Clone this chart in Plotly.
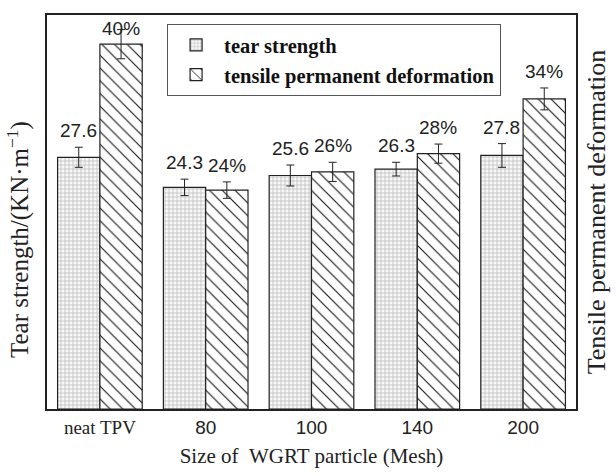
import plotly.graph_objects as go

# Sample groups (WGRT particle size) and measured properties
categories = ["neat TPV", "80", "100", "140", "200"]
tear_strength = [27.6, 24.3, 25.6, 26.3, 27.8]          # KN/m
tear_err = [1.1, 0.9, 1.15, 0.75, 1.3]
tensile_deform = [40, 24, 26, 28, 34]                   # %
tensile_err = [1.6, 0.9, 1.05, 1.05, 1.2]
tear_labels = ["27.6", "24.3", "25.6", "26.3", "27.8"]
tensile_labels = ["40%", "24%", "26%", "28%", "34%"]

serif = "Liberation Serif"
sans = "Liberation Sans"
ink = "#222"

y_range = [0, 43.2]
label_size = 19

tick_text = [f"<span style='font-family:{serif}'>{categories[0]}</span>"] + categories[1:]

fig = go.Figure()

fig.add_trace(go.Bar(
    name="<b>tear strength</b>",
    x=categories, y=tear_strength,
    offsetgroup="tear", yaxis="y",
    marker=dict(color="#f4f4f4",
                line=dict(color=ink, width=1.2),
                pattern=dict(shape="+", size=4, solidity=0.25,
                             fgcolor="#a8a8a8", bgcolor="#f7f7f7", fillmode="replace")),
    error_y=dict(type="data", array=tear_err, color=ink, thickness=1, width=4),
))

fig.add_trace(go.Bar(
    name="<b>tensile permanent deformation</b>",
    x=categories, y=tensile_deform,
    offsetgroup="tensile", yaxis="y2",
    marker=dict(color="white",
                line=dict(color=ink, width=1.2),
                pattern=dict(shape="\\", size=9, solidity=0.12,
                             fgcolor="#111", bgcolor="white", fillmode="replace")),
    error_y=dict(type="data", array=tensile_err, color=ink, thickness=1, width=4),
))


def value_label(x, top, text, yref):
    """Label sitting above an error bar, kept inside the frame."""
    label_px = label_size * 1.25
    px_per_unit = 396 / (y_range[1] - y_range[0])
    if top + label_px / px_per_unit > y_range[1]:
        return dict(x=x, y=y_range[1], xref="x", yref=yref, text=text,
                    showarrow=False, yanchor="top", yshift=-1,
                    font=dict(family=sans, size=label_size, color=ink))
    return dict(x=x, y=top, xref="x", yref=yref, text=text,
                showarrow=False, yanchor="bottom", yshift=4,
                font=dict(family=sans, size=label_size, color=ink))


annotations = []
for i, (v, e, t) in enumerate(zip(tear_strength, tear_err, tear_labels)):
    annotations.append(value_label(i - 0.2, v + e, t, "y"))
for i, (v, e, t) in enumerate(zip(tensile_deform, tensile_err, tensile_labels)):
    annotations.append(value_label(i + 0.2, v + e, t, "y2"))

# Left axis title
annotations.append(dict(
    xref="paper", yref="paper", x=-0.054, y=0.43, xanchor="center", yanchor="middle",
    text="Tear strength/(KN·m<sup>−1</sup>)", textangle=-90, showarrow=False,
    font=dict(family=serif, size=25, color=ink),
))

fig.update_layout(
    width=616, height=476,
    margin=dict(l=47, r=36, t=15, b=65),
    paper_bgcolor="white", plot_bgcolor="white",
    barmode="group", bargap=0.2, bargroupgap=0,
    showlegend=True,
    legend=dict(x=0.227, y=0.977, xanchor="left", yanchor="top",
                bordercolor="#555", borderwidth=1, bgcolor="white",
                font=dict(family=serif, size=20.5, color="#111"),
                itemwidth=46),
    xaxis=dict(
        tickmode="array", tickvals=categories, ticktext=tick_text,
        showline=True, linecolor=ink, linewidth=1.5, mirror=True,
        ticks="", showgrid=False,
        range=[-0.5, 4.5],
        tickfont=dict(family=sans, size=19, color=ink),
        title=dict(text="Size of&nbsp;&nbsp;WGRT particle (Mesh)",
                   font=dict(family=serif, size=21, color=ink), standoff=12),
    ),
    yaxis=dict(
        range=y_range, showticklabels=False, ticks="", showgrid=False,
        showline=True, linecolor=ink, linewidth=1.5, mirror=True,
        zeroline=False,
    ),
    yaxis2=dict(
        range=y_range, overlaying="y", side="right",
        showticklabels=False, ticks="", showgrid=False, zeroline=False,
        title=dict(text="Tensile permanent deformation",
                   font=dict(family=serif, size=26, color=ink), standoff=10),
    ),
    annotations=annotations,
)

fig.write_html("out.html")
